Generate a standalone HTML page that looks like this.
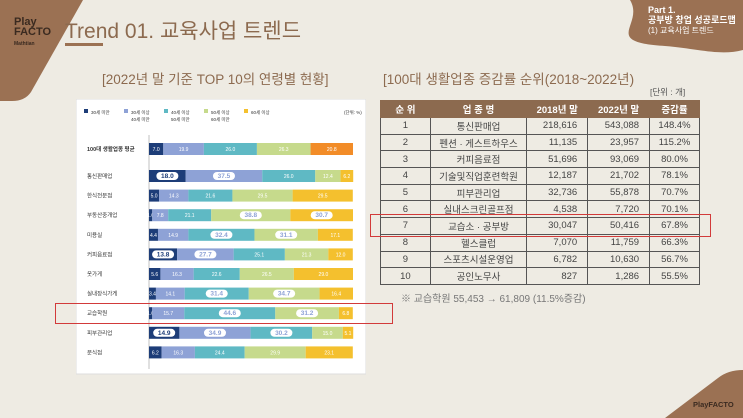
<!DOCTYPE html>
<html><head><meta charset="utf-8">
<style>
body{margin:0;width:743px;height:418px;overflow:hidden;background:#eeebe3;font-family:"Liberation Sans","Noto Sans CJK KR",sans-serif;position:relative}
.abs{position:absolute}
table{border-collapse:collapse;font-size:9.5px;color:#444}
td,th{border:1px solid #555;height:15.7px;padding:0;text-align:center}
th{background:#8c6a4f;color:#fff;font-weight:bold;height:16px;border-color:#8c6a4f}
td.n{text-align:right;padding-right:10px}
</style></head><body>
<svg class="abs" style="left:0;top:0" width="743" height="418">
<path d="M0,0 L83,0 L31,92 Q25,101 12,101 L0,101 Z" fill="#9b7153"/>
<path d="M630,0 C645,25 600,42 665,46 C700,49 720,56 743,50 L743,0 Z" fill="#9b7153"/>
<path d="M665,418 L718,378 Q728,370 743,370 L743,418 Z" fill="#9b7153"/>
<rect x="65" y="43" width="38" height="3" fill="#9b7153"/>
</svg>
<div class="abs" style="left:14px;top:17px;color:#3a2a20;font-size:11px;line-height:10px;font-weight:bold">Play<br>FACTO<br><span style="font-size:5px">Mathtian</span></div>
<div class="abs" style="left:65px;top:15px;font-size:21px;color:#8c6a4f">Trend 01. 교육사업 트렌드</div>
<div class="abs" style="left:648px;top:5px;color:#fff;font-size:9px;line-height:10px"><b>Part 1.</b><br><b>공부방 창업 성공로드맵</b><br><span style="font-size:8px">(1) 교육사업 트렌드</span></div>
<div class="abs" style="left:102px;top:68px;font-size:13.5px;color:#8c6a4f">[2022년 말 기준 TOP 10의 연령별 현황]</div>
<div class="abs" style="left:383px;top:68px;font-size:13.5px;color:#8c6a4f">[100대 생활업종 증감률 순위(2018~2022년)</div>
<div class="abs" style="left:650px;top:86px;font-size:8.5px;color:#555">[단위 : 개]</div>

<svg id="chart" class="abs" style="left:76px;top:99px" width="290" height="276"></svg>

<table class="abs" style="left:380px;top:100px;width:320px">
<colgroup><col style="width:50px"><col style="width:97px"><col style="width:61px"><col style="width:62px"><col style="width:50px"></colgroup>
<tr><th>순 위</th><th>업 종 명</th><th>2018년 말</th><th>2022년 말</th><th>증감률</th></tr>
<tr><td>1</td><td>통신판매업</td><td class="n">218,616</td><td class="n">543,088</td><td>148.4%</td></tr>
<tr><td>2</td><td>펜션 · 게스트하우스</td><td class="n">11,135</td><td class="n">23,957</td><td>115.2%</td></tr>
<tr><td>3</td><td>커피음료점</td><td class="n">51,696</td><td class="n">93,069</td><td>80.0%</td></tr>
<tr><td>4</td><td>기술및직업훈련학원</td><td class="n">12,187</td><td class="n">21,702</td><td>78.1%</td></tr>
<tr><td>5</td><td>피부관리업</td><td class="n">32,736</td><td class="n">55,878</td><td>70.7%</td></tr>
<tr><td>6</td><td>실내스크린골프점</td><td class="n">4,538</td><td class="n">7,720</td><td>70.1%</td></tr>
<tr><td>7</td><td>교습소 · 공부방</td><td class="n">30,047</td><td class="n">50,416</td><td>67.8%</td></tr>
<tr><td>8</td><td>헬스클럽</td><td class="n">7,070</td><td class="n">11,759</td><td>66.3%</td></tr>
<tr><td>9</td><td>스포츠시설운영업</td><td class="n">6,782</td><td class="n">10,630</td><td>56.7%</td></tr>
<tr><td>10</td><td>공인노무사</td><td class="n">827</td><td class="n">1,286</td><td>55.5%</td></tr>
</table>
<div class="abs" style="left:401px;top:290px;font-size:10px;color:#777">※ 교습학원 55,453 → 61,809 (11.5%증감)</div>
<div class="abs" style="left:55px;top:303px;width:336px;height:19px;border:1.5px solid #d23a3a"></div>
<div class="abs" style="left:370px;top:214px;width:339px;height:21px;border:1.5px solid #d23a3a"></div>
<div class="abs" style="left:693px;top:400px;font-size:7.5px;color:#3a2a20;font-weight:bold">PlayFACTO</div>

<script>
const categories=["100대 생활업종 평균","통신판매업","한식전문점","부동산중개업","미용실","커피음료점","옷가게","실내장식가게","교습학원","피부관리업","분식점"];
const under30=[7.0,18.0,5.0,1.6,4.4,13.8,5.6,3.4,1.6,14.9,6.2];
const age30s=[19.9,37.5,14.3,7.8,14.9,27.7,16.3,14.1,15.7,34.9,16.3];
const age40s=[26.0,26.0,21.6,21.1,32.4,25.1,22.6,31.4,44.6,30.2,24.4];
const age50s=[26.3,12.4,29.5,38.8,31.1,21.3,26.5,34.7,31.2,15.0,29.9];
const over60=[20.8,6.2,29.5,30.7,17.1,12.0,29.0,16.4,6.8,5.1,23.1];
const legendLabels=["30세 미만","30세 이상\n40세 미만","40세 이상\n50세 미만","50세 이상\n60세 미만","60세 이상"];
const series=[under30,age30s,age40s,age50s,over60];
const colors=["#1d3d78","#8ea2d6","#5fb9c4","#c6da8c","#f4c02e"];
const NS="http://www.w3.org/2000/svg";
const svg=document.getElementById("chart");
function mk(t,a){const e=document.createElementNS(NS,t);for(const k in a)e.setAttribute(k,a[k]);svg.appendChild(e);return e;}
const x0=73,W=204;
const xs=v=>v/100*W;
const ys=i=>i===0?50:77+(i-1)*19.6;
const bg=mk("rect",{x:0,y:0,width:290,height:275,fill:"#fff",stroke:"#ddd"});

legendLabels.forEach((l,i)=>{
  const lx=8+i*40;
  const r=mk("rect",{x:lx,y:10,width:4,height:4,fill:colors[i]});
  
  l.split("\n").forEach((p,j)=>{const t=mk("text",{x:lx+7,y:15+j*7,"font-size":4.5,fill:"#333"});t.textContent=p;
  });
});
const u=mk("text",{x:268,y:15,"font-size":4.5,fill:"#333"});u.textContent="(단위: %)";

const ax=mk("line",{x1:x0,y1:36,x2:x0,y2:270,stroke:"#999","stroke-width":0.6});

categories.forEach((c,i)=>{
  const y=ys(i);
  const lt=mk("text",{x:11,y:y+2,"font-size":5.5,fill:"#333","font-weight":i===0?"bold":"normal"});lt.textContent=c;
  
  let acc=0;
  series.forEach((s,k)=>{
    const w=xs(s[i]);
    const col=(i===0&&k===4)?"#f28c28":colors[k];
    const r=mk("rect",{x:x0+xs(acc),y:y-6,width:w,height:12,fill:col});
    
    const big=(k<=2&&s[i]>=13&&(k===0||s[i]>=27))||(k>=3&&s[i]>=30)&&i>0;
    if(big&&i>0){const p=mk("rect",{x:x0+xs(acc)+w/2-11,y:y-4,width:22,height:8,rx:4,fill:"#fff"});
      }
    const t=mk("text",{x:x0+xs(acc)+w/2,y:y+2,"font-size":big&&i>0?6.5:5,"text-anchor":"middle",fill:big&&i>0?colors[Math.min(k,2)===0?0:1]:"#fff","font-weight":big?"bold":"normal"});
    t.textContent=s[i].toFixed(1);
    
    acc+=s[i];
  });
});
</script>
</body></html>
